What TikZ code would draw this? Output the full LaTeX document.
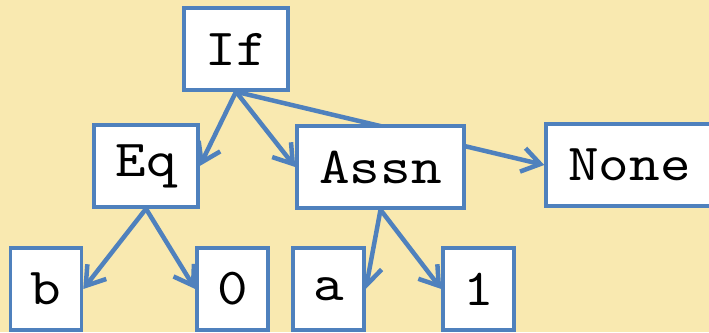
\documentclass[tikz,border=0pt]{standalone}
\usepackage{fontspec}
\setmonofont{lmmono10-regular}[Extension=.otf, FakeStretch=1.12]
\usetikzlibrary{arrows.meta}
\definecolor{bgyellow}{RGB}{249,233,176}
\definecolor{boxblue}{RGB}{79,129,189}
\pgfdeclarelayer{bg}
\pgfdeclarelayer{edges}
\pgfsetlayers{bg,edges,main}
\begin{document}
\begin{tikzpicture}[x=1pt,y=1pt,
  treebox/.style={draw=boxblue, fill=white, line width=3.5pt, inner sep=0pt,
    minimum height=82pt, font=\ttfamily\fontsize{52}{60}\selectfont},
  wide/.style={treebox, minimum width=104pt},
  wider/.style={treebox, minimum width=167pt},
  leaf/.style={treebox, minimum width=71pt},
  edge/.style={draw=boxblue, line width=4.5pt,
    -{Straight Barb[length=18pt,width=24pt,line width=4.5pt]}}]
\useasboundingbox (0,0) rectangle (709,-332);
\clip (0,0) rectangle (709,-332);
\begin{pgfonlayer}{bg}
\fill[bgyellow] (0,0) rectangle (709,-332);
\end{pgfonlayer}
\node[wide]  (if)   at (236,-49)    {If};
\node[wide]  (eq)   at (146,-166)   {Eq};
\node[wider] (assn) at (380.5,-167) {Assn};
\node[wider] (none) at (629.5,-165) {None};
\node[leaf]  (b)    at (46,-289)    {b};
\node[leaf]  (zero) at (232.5,-289) {0};
\node[leaf]  (a)    at (328.5,-289) {a};
\node[leaf]  (one)  at (478.5,-289) {1};
\begin{pgfonlayer}{edges}
\draw[edge] (if.south) -- (eq.east);
\draw[edge] (if.south) -- (assn.west);
\draw[edge] (if.south) -- (none.west);
\draw[edge] (eq.south) -- (b.east);
\draw[edge] (eq.south) -- (zero.west);
\draw[edge] (assn.south) -- (a.east);
\draw[edge] (assn.south) -- (one.west);
\end{pgfonlayer}
\end{tikzpicture}
\end{document}
